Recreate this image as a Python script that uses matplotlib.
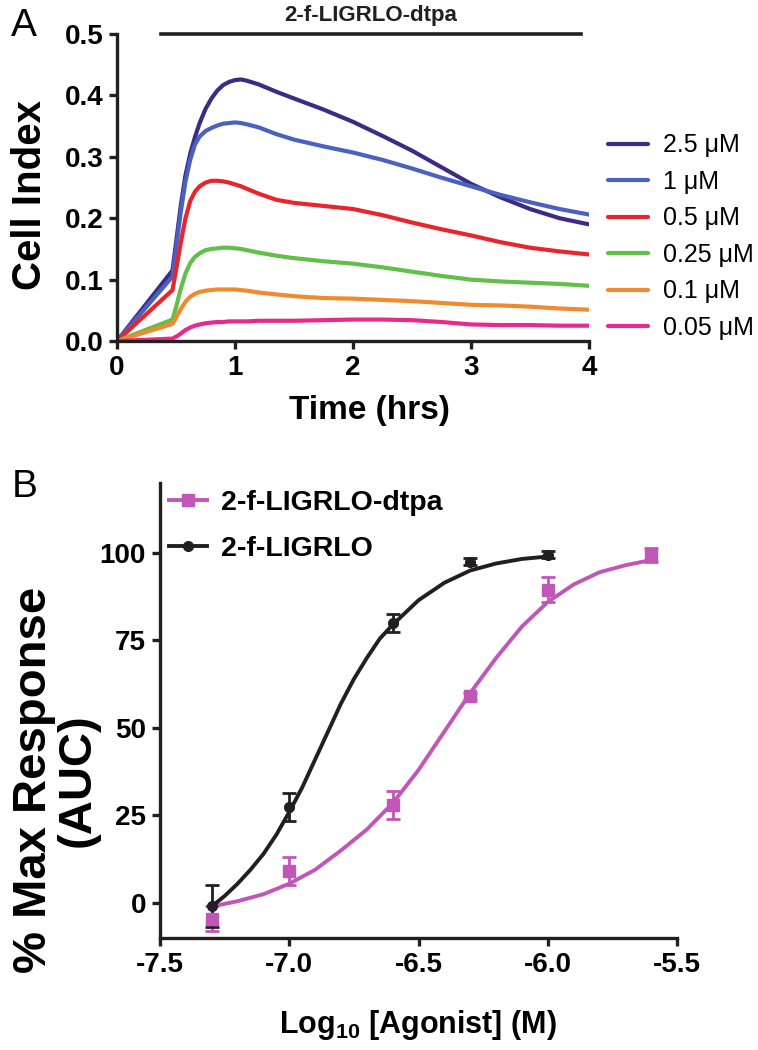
import numpy as np
import matplotlib.pyplot as plt
from matplotlib.ticker import FormatStrFormatter

plt.rcParams['font.family'] = ['Liberation Sans', 'DejaVu Sans']
plt.rcParams['mathtext.fontset'] = 'custom'
plt.rcParams['mathtext.rm'] = 'Liberation Sans:bold'
plt.rcParams['mathtext.default'] = 'rm'

# ---- Panel A: cell index traces ----
time_hrs = [0, 0.47, 0.5, 0.54, 0.58, 0.62, 0.66, 0.7, 0.75, 0.8, 0.85, 0.9, 0.95,
            1.0, 1.05, 1.1, 1.2, 1.35, 1.5, 1.75, 2.0, 2.25, 2.5, 2.75, 3.0, 3.25,
            3.5, 3.75, 4.0]
ci_2p5 = [0, 0.115, 0.16, 0.22, 0.27, 0.305, 0.332, 0.355, 0.378, 0.395, 0.408, 0.417,
          0.422, 0.425, 0.426, 0.424, 0.418, 0.406, 0.395, 0.377, 0.357, 0.334, 0.31,
          0.283, 0.256, 0.234, 0.215, 0.2, 0.19]
ci_1 = [0, 0.105, 0.15, 0.21, 0.26, 0.295, 0.32, 0.333, 0.342, 0.347, 0.351, 0.354,
        0.355, 0.356, 0.355, 0.353, 0.348, 0.337, 0.328, 0.317, 0.307, 0.295, 0.281,
        0.266, 0.252, 0.238, 0.226, 0.215, 0.206]
ci_0p5 = [0, 0.083, 0.115, 0.16, 0.2, 0.228, 0.243, 0.252, 0.258, 0.261, 0.261, 0.26,
          0.258, 0.255, 0.252, 0.248, 0.24, 0.23, 0.225, 0.22, 0.215, 0.205, 0.193,
          0.182, 0.172, 0.161, 0.152, 0.146, 0.141]
ci_0p25 = [0, 0.035, 0.055, 0.085, 0.11, 0.127, 0.137, 0.143, 0.148, 0.15, 0.151, 0.152,
           0.152, 0.151, 0.15, 0.148, 0.144, 0.139, 0.135, 0.13, 0.126, 0.12, 0.113,
           0.106, 0.1, 0.097, 0.095, 0.093, 0.09]
ci_0p1 = [0, 0.028, 0.038, 0.052, 0.064, 0.072, 0.077, 0.08, 0.082, 0.083, 0.084, 0.084,
          0.084, 0.084, 0.083, 0.082, 0.079, 0.076, 0.073, 0.07, 0.069, 0.067, 0.065,
          0.062, 0.059, 0.058, 0.056, 0.053, 0.051]
ci_0p05 = [0, 0.004, 0.007, 0.012, 0.018, 0.022, 0.025, 0.027, 0.029, 0.03, 0.031, 0.031,
           0.032, 0.032, 0.032, 0.032, 0.033, 0.033, 0.033, 0.034, 0.035, 0.035, 0.034,
           0.031, 0.027, 0.026, 0.026, 0.025, 0.025]
conc_labels = ['2.5 μM', '1 μM', '0.5 μM', '0.25 μM', '0.1 μM', '0.05 μM']
conc_colors = ['#3b2b84', '#4b61bf', '#e8252d', '#62bf48', '#f18a2f', '#e92a8b']

# ---- Panel B: concentration-response (AUC) ----
log_dose_plain = [-7.3, -7.0, -6.6, -6.3, -6.0]
resp_plain = [-1, 27.5, 80, 97.5, 99.5]
err_plain = [6, 4, 2.5, 1, 1]
log_dose_dtpa = [-7.3, -7.0, -6.6, -6.3, -6.0, -5.6]
resp_dtpa = [-4.5, 9, 28, 59, 89.5, 99.5]
err_dtpa = [3.5, 4, 4, 1, 3.5, 2]

# fitted curves
fit_x_plain = [-7.3, -7.25, -7.2, -7.15, -7.1, -7.05, -7.0, -6.95, -6.9, -6.85, -6.8,
               -6.75, -6.7, -6.65, -6.6, -6.5, -6.4, -6.3, -6.2, -6.1, -6.0]
fit_y_plain = [-1, 2, 5.5, 9.5, 14, 19.5, 26, 33, 41, 49, 57, 64, 70, 75.5, 79.5,
               86.5, 91.5, 95, 97, 98.3, 99]
fit_x_dtpa = [-7.3, -7.2, -7.1, -7.0, -6.9, -6.8, -6.7, -6.6, -6.5, -6.4, -6.3,
              -6.2, -6.1, -6.0, -5.9, -5.8, -5.7, -5.6]
fit_y_dtpa = [-1, 0.5, 2.5, 5.5, 9.5, 15, 21, 28.5, 38, 49, 60, 70, 79, 86, 91,
              94.5, 96.5, 98]

black = '#231f20'
magenta = '#c256b8'
lw_axis = 2.4

fig = plt.figure(figsize=(7.58, 10.5), dpi=100)

def style_axes(ax):
    for s in ['top', 'right']:
        ax.spines[s].set_visible(False)
    for s in ['left', 'bottom']:
        ax.spines[s].set_linewidth(lw_axis)
        ax.spines[s].set_color(black)
    ax.tick_params(width=lw_axis, length=6, color=black, labelsize=20, pad=4)
    for lab in ax.get_xticklabels() + ax.get_yticklabels():
        lab.set_fontweight('bold')

# Panel A
axA = fig.add_axes([0.1544, 0.6752, 0.6227, 0.2924])
series = [ci_2p5, ci_1, ci_0p5, ci_0p25, ci_0p1, ci_0p05]
for vals, lab, col in zip(series, conc_labels, conc_colors):
    axA.plot(time_hrs, vals, color=col, lw=3, label=lab, solid_capstyle='round',
             solid_joinstyle='round')
axA.set_xlim(0, 4)
axA.set_ylim(0, 0.5)
axA.set_xticks([0, 1, 2, 3, 4])
axA.set_yticks([0, 0.1, 0.2, 0.3, 0.4, 0.5])
axA.yaxis.set_major_formatter(FormatStrFormatter('%.1f'))
style_axes(axA)
fig.text(0.039, 0.814, 'Cell Index', fontsize=29, fontweight='bold', rotation=90,
         ha='center', va='center')
fig.text(0.487, 0.6095, 'Time (hrs)', fontsize=24, fontweight='bold',
         ha='center', va='center')
axA.plot([0.37, 3.93], [0.5, 0.5], color=black, lw=2.6, clip_on=False)
fig.text(0.489, 1 - 16 / 1050, '2-f-LIGRLO-dtpa', ha='center', va='center', fontsize=16,
         fontweight='bold', color=black)
axA.legend(loc='upper left', bbox_to_anchor=(1.040, 0.676), frameon=False, fontsize=18,
           handlelength=1.6, handletextpad=0.6, labelspacing=0.5, borderaxespad=0,
           borderpad=0)
fig.text(0.015, 0.992, 'A', fontsize=28, va='top', ha='left')

# Panel B
axB = fig.add_axes([0.2111, 0.1067, 0.6821, 0.4333])
axB.plot(fit_x_dtpa, fit_y_dtpa, color=magenta, lw=2.8, solid_joinstyle='round')
axB.plot(fit_x_plain, fit_y_plain, color=black, lw=2.8, solid_joinstyle='round')
axB.errorbar(log_dose_dtpa, resp_dtpa, yerr=err_dtpa, fmt='s', color=magenta, ms=8,
             elinewidth=2, capsize=5, capthick=2)
axB.errorbar(log_dose_plain, resp_plain, yerr=err_plain, fmt='o', color=black, ms=7,
             elinewidth=2, capsize=5, capthick=2)
h1, = axB.plot([], [], color=magenta, lw=2.8, marker='s', ms=8)
h2, = axB.plot([], [], color=black, lw=2.8, marker='o', ms=7)
axB.legend([h1, h2], ['2-f-LIGRLO-dtpa', '2-f-LIGRLO'], loc='upper left',
           bbox_to_anchor=(0.017, 0.985), frameon=False,
           prop={'size': 20.5, 'weight': 'bold'}, handlelength=1.33, handletextpad=0.5,
           labelspacing=0.72, borderaxespad=0, borderpad=0)
axB.set_xlim(-7.5, -5.5)
axB.set_ylim(-10, 120)
axB.set_xticks([-7.5, -7.0, -6.5, -6.0, -5.5])
axB.set_yticks([0, 25, 50, 75, 100])
axB.xaxis.set_major_formatter(FormatStrFormatter('%.1f'))
style_axes(axB)
fig.text(0.074, 0.257, '% Max Response\n(AUC)', fontsize=34, fontweight='bold',
         rotation=90, ha='center', va='center', multialignment='center', linespacing=1.0)
fig.text(0.551, 0.0238, 'Log$_{10}$ [Agonist] (M)', fontsize=22, fontweight='bold',
         ha='center', va='center')
fig.text(0.015, 0.553, 'B', fontsize=28, va='top', ha='left')

fig.savefig('out.png', dpi=100)
